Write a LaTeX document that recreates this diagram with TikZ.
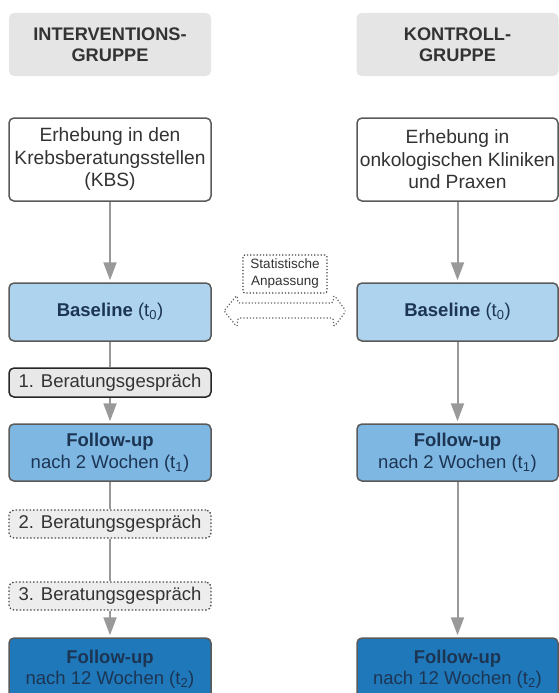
\documentclass[tikz,border=0pt]{standalone}
\usepackage{fontspec}
\setmainfont{Liberation Sans}
\usetikzlibrary{arrows.meta}
\definecolor{hdrgray}{HTML}{E5E5E5}
\definecolor{bord}{HTML}{5A5A5A}
\definecolor{txt}{HTML}{333333}
\definecolor{baseblue}{HTML}{AED3EF}
\definecolor{fuoneblue}{HTML}{7FB7E3}
\definecolor{futwoblue}{HTML}{1F78BA}
\definecolor{navytxt}{HTML}{1C3553}
\definecolor{linegray}{HTML}{999999}
\definecolor{bergray}{HTML}{E8E8E8}
\tikzset{
  x=1pt, y=-1pt,
  hdr/.style={fill=hdrgray, rounded corners=5pt, minimum width=202pt, minimum height=63pt, align=center, text=txt, font=\fontsize{18.2}{21.5}\selectfont\bfseries, inner sep=0pt},
  box/.style={draw=bord, line width=1.5pt, rounded corners=5pt, minimum width=202pt, align=center, text=txt, font=\fontsize{18.5}{21.5}\selectfont, inner sep=0pt},
  erh/.style={box, fill=white, minimum height=83pt, font=\fontsize{19.2}{22.5}\selectfont},
  base/.style={box, fill=baseblue, minimum height=58pt, text=navytxt},
  fuone/.style={box, fill=fuoneblue, minimum height=57pt, text=navytxt},
  futwo/.style={box, fill=futwoblue, minimum height=62pt, text=navytxt},
  ber/.style={box, fill=bergray, minimum height=29pt, draw=black!85},
  berdot/.style={box, fill=bergray!80, minimum height=28pt, draw=black!70, dotted, line width=1.3pt},
  conn/.style={draw=linegray, line width=2pt},
  arr/.style={conn, -{Triangle[width=13pt,length=18pt]}, shorten >=2pt},
}
\begin{document}
\begin{tikzpicture}
\useasboundingbox (0,0) rectangle (559,693);
% left column
\node[hdr] (hL) at (110,44.5) {INTERVENTIONS-\\GRUPPE};
\node[erh] (eL) at (110,159.5) {Erhebung in den\\Krebsberatungsstellen\\(KBS)};
\node[base] (bL) at (110,312) {\textbf{Baseline} (t\textsubscript{0})};
\node[ber] (b1) at (110,382.5) {1. Beratungsgespräch};
\node[fuone] (fL) at (110,452.5) {\textbf{Follow-up}\\nach 2 Wochen (t\textsubscript{1})};
\node[berdot] (b2) at (110,524) {2. Beratungsgespräch};
\node[berdot] (b3) at (110,596) {3. Beratungsgespräch};
\node[futwo] (gL) at (110,669) {\textbf{Follow-up}\\nach 12 Wochen (t\textsubscript{2})};
% right column
\node[hdr] (hR) at (457.5,44.5) {KONTROLL-\\GRUPPE};
\node[erh, minimum width=201pt] (eR) at (457.5,159.5) {Erhebung in\\onkologischen Kliniken\\und Praxen};
\node[base, minimum width=201pt] (bR) at (457.5,312) {\textbf{Baseline} (t\textsubscript{0})};
\node[fuone, minimum width=201pt] (fR) at (457.5,452.5) {\textbf{Follow-up}\\nach 2 Wochen (t\textsubscript{1})};
\node[futwo, minimum width=201pt] (gR) at (457.5,669) {\textbf{Follow-up}\\nach 12 Wochen (t\textsubscript{2})};
% connectors left
\draw[arr] (eL) -- (bL);
\draw[conn] (bL) -- (b1);
\draw[arr] (b1) -- (fL);
\draw[conn] (fL) -- (b2);
\draw[conn] (b2) -- (b3);
\draw[arr] (b3) -- (gL);
% connectors right
\draw[arr] (eR) -- (bR);
\draw[arr] (bR) -- (fR);
\draw[arr] (fR) -- (gR);
% statistical adjustment
\node[draw=black!75, dotted, line width=1.2pt, rounded corners=2pt, fill=white, align=center, text=txt, font=\fontsize{13.5}{17}\selectfont, minimum width=84pt, minimum height=38pt, inner sep=0pt] (sa) at (285,274) {Statistische\\Anpassung};
\draw[draw=black!60, dotted, line width=1.2pt, fill=white, rounded corners=1.5pt]
  (224,311) -- (237,295) -- (238,303) -- (333,303) -- (334,295) -- (346,311) -- (334,327) -- (333,318) -- (238,318) -- (237,327) -- cycle;
\end{tikzpicture}
\end{document}
